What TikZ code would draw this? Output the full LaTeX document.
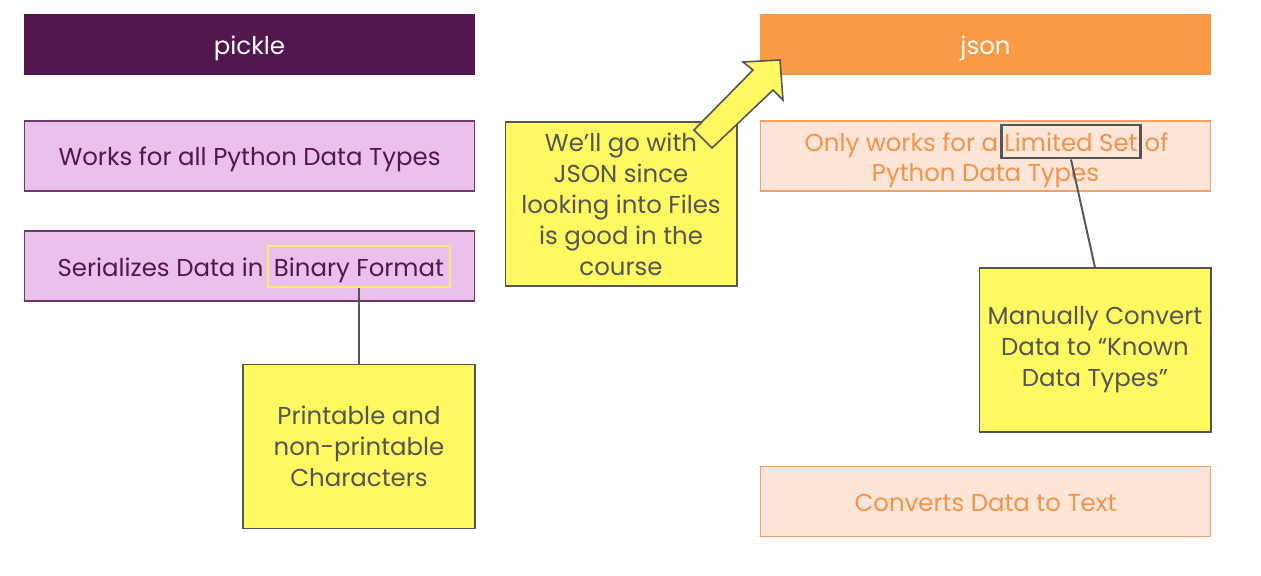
\documentclass[tikz,border=0pt]{standalone}
\usepackage{fontspec}
\setmainfont{Poppins}
\usepackage{xcolor}
\usepackage{tikz}

\definecolor{pickledark}{HTML}{52174E}
\definecolor{picklefill}{HTML}{EBC0EA}
\definecolor{pickleline}{HTML}{6D3A6A}
\definecolor{jsonorange}{HTML}{FA9A44}
\definecolor{jsonfill}{HTML}{FDE6D8}
\definecolor{jsonline}{HTML}{F7A060}
\definecolor{jsontext}{HTML}{F5934A}
\definecolor{noteyellow}{HTML}{FFFA62}
\definecolor{notegray}{HTML}{555555}
\definecolor{hlyellow}{HTML}{FFE873}

\tikzset{
  txt/.style={font=\fontsize{13.9}{17.6}\selectfont, inner sep=0pt, align=center},
  oneline/.style={text height=11pt, text depth=0pt},
  head/.style={txt, oneline, minimum width=9.02cm, minimum height=1.22cm, text=white},
  picklebox/.style={txt, draw=pickleline, fill=picklefill, line width=0.6pt, minimum width=9.02cm, minimum height=1.4cm},
  jsonbox/.style={txt, draw=jsonline, fill=jsonfill, line width=0.6pt, minimum width=9.02cm, minimum height=1.4cm, text=jsontext},
  note/.style={txt, draw=notegray, fill=noteyellow, line width=0.6pt, minimum width=4.64cm, minimum height=3.28cm, text=notegray},
  link/.style={draw=notegray, line width=1.1pt}
}

\begin{document}
\begin{tikzpicture}[x=0.02cm, y=-0.02cm]
\useasboundingbox (0,0) rectangle (1261,575);

% headers
\node[head, fill=pickledark] (pickle) at (249.5,44.5) {pickle};
\node[head, fill=jsonorange] (json) at (985.5,44.5) {json};

% pickle column
\node[picklebox, oneline, text=pickledark] (works) at (249.5,156) {Works for all Python Data Types};
\node[picklebox] (serial) at (249.5,266) {};
\node[txt, oneline, text=pickledark, draw=hlyellow, line width=1.4pt, inner xsep=3.5pt, minimum height=0.82cm] (binary) at (359,266.5) {Binary Format};
\node[txt, oneline, text=pickledark, anchor=east] (serialtxt) at ([xshift=-1.5pt]binary.west) {Serializes Data in};
\node[note] (printable) at (359,446.5) {Printable and\\non-printable\\Characters};
\draw[link] (binary.south) -- (printable.north);

% middle note
\node[note] (choice) at (621,204) {We’ll go with\\JSON since\\looking into Files\\is good in the\\course};
\draw[draw=notegray, fill=noteyellow, line width=0.9pt, line join=miter]
  (694,130) -- (753,70) -- (743,62) -- (780,60) -- (783,100) -- (773,90) -- (712,148) -- cycle;

% json column
\node[jsonbox] (limited) at (985.5,156) {};
\node[txt, oneline, text=jsontext, draw=notegray, line width=1.7pt, inner xsep=1.5pt, minimum height=0.66cm] (limset) at (1071,141.5) {Limited Set};
\node[txt, oneline, text=jsontext, anchor=east] (onlytxt) at ([xshift=-1pt]limset.west) {Only works for a};
\node[txt, oneline, text=jsontext, anchor=west] (oftxt) at ([xshift=1.5pt]limset.east) {of};
\node[txt, oneline, text=jsontext] (pytypes) at (985.5,172) {Python Data Types};
\node[note] (manual) at (1095,350) {Manually Convert\\Data to “Known\\Data Types”};
\draw[link] (limset.south) -- (manual.north);
\node[jsonbox, oneline] (text) at (985.5,501.5) {Converts Data to Text};

\end{tikzpicture}
\end{document}
